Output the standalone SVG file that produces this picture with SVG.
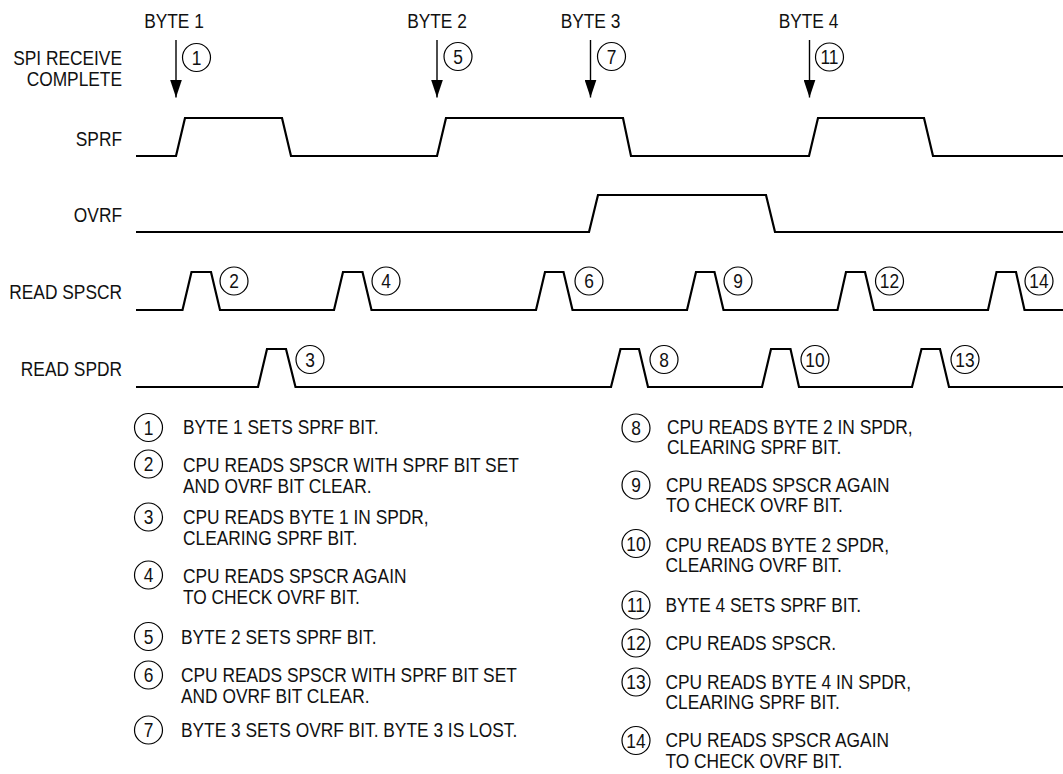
<svg xmlns="http://www.w3.org/2000/svg" width="1063" height="774" viewBox="0 0 1063 774">
<style>
.t{font-family:"Liberation Sans",Arial,sans-serif;font-size:19.5px;fill:#111}
.e{text-anchor:end}
.m{text-anchor:middle}
.sig{fill:none;stroke:#000;stroke-width:2.2;stroke-linejoin:miter}
.cir{fill:none;stroke:#000;stroke-width:1.2}
.arr{stroke:#000;stroke-width:1.4;fill:none}
</style>
<defs>
<marker id="ah" markerUnits="userSpaceOnUse" markerWidth="19" markerHeight="12" refX="18" refY="6" orient="auto"><path d="M0,0 L18,6 L0,12 z" fill="#000"/></marker>
</defs>
<rect width="1063" height="774" fill="#fff"/>
<g id="labels">
<text class="t m" transform="translate(174 28) scale(0.89 1)">BYTE 1</text>
<text class="t m" transform="translate(437 28) scale(0.89 1)">BYTE 2</text>
<text class="t m" transform="translate(590.5 28) scale(0.89 1)">BYTE 3</text>
<text class="t m" transform="translate(808.5 28) scale(0.89 1)">BYTE 4</text>
<text class="t e" transform="translate(122 65) scale(0.89 1)">SPI RECEIVE</text>
<text class="t e" transform="translate(122 86) scale(0.89 1)">COMPLETE</text>
<text class="t e" transform="translate(122 146) scale(0.89 1)">SPRF</text>
<text class="t e" transform="translate(122 222) scale(0.89 1)">OVRF</text>
<text class="t e" transform="translate(122 299) scale(0.89 1)">READ SPSCR</text>
<text class="t e" transform="translate(122 376) scale(0.89 1)">READ SPDR</text>
</g>
<g id="sprf"><path class="sig" d="M136,156 H176 L185,118 H282 L291,156 H437 L446,118 H623 L631,156 H809 L818,118 H924 L933,156 H1063"/></g>
<g id="ovrf"><path class="sig" d="M136,232 H589 L598,195 H766 L775,232 H1063"/></g>
<g id="read-spscr"><path class="sig" d="M136,310 H182.5 L191.5,272 H211 L220,310 H334 L343,272 H362.5 L371.5,310 H536 L545,272 H563.5 L572.5,310 H687 L696,272 H714.5 L723.5,310 H837.5 L846,272 H865 L874,310 H988 L996.5,272 H1016 L1024.5,310 H1063"/></g>
<g id="read-spdr"><path class="sig" d="M136,387 H258 L267,349 H286 L295.5,387 H611 L620.5,349 H639 L648,387 H762 L771,349 H790.5 L799,387 H912 L921.5,349 H940 L949,387 H1063"/></g>
<g id="connectors">
<line class="arr" x1="176" y1="40" x2="176" y2="97.5" marker-end="url(#ah)"/>
<line class="arr" x1="437" y1="40" x2="437" y2="97.5" marker-end="url(#ah)"/>
<line class="arr" x1="590.5" y1="40" x2="590.5" y2="97.5" marker-end="url(#ah)"/>
<line class="arr" x1="809.5" y1="40" x2="809.5" y2="97.5" marker-end="url(#ah)"/>
</g>
<g id="markers">
<g id="m1"><circle class="cir" cx="196.5" cy="57.5" r="14"/><text class="t m" transform="translate(196.5 64.5) scale(0.89 1)">1</text></g>
<g id="m5"><circle class="cir" cx="458" cy="56.5" r="14"/><text class="t m" transform="translate(458 63.5) scale(0.89 1)">5</text></g>
<g id="m7"><circle class="cir" cx="611.5" cy="56.5" r="14"/><text class="t m" transform="translate(611.5 63.5) scale(0.89 1)">7</text></g>
<g id="m11"><circle class="cir" cx="829.5" cy="57" r="14"/><text class="t m" transform="translate(829.5 64) scale(0.89 1)">11</text></g>
<g id="m2"><circle class="cir" cx="234" cy="281" r="14"/><text class="t m" transform="translate(234 288) scale(0.89 1)">2</text></g>
<g id="m4"><circle class="cir" cx="386" cy="281" r="14"/><text class="t m" transform="translate(386 288) scale(0.89 1)">4</text></g>
<g id="m6"><circle class="cir" cx="589" cy="281" r="14"/><text class="t m" transform="translate(589 288) scale(0.89 1)">6</text></g>
<g id="m9"><circle class="cir" cx="738" cy="281" r="14"/><text class="t m" transform="translate(738 288) scale(0.89 1)">9</text></g>
<g id="m12"><circle class="cir" cx="889.5" cy="281" r="14"/><text class="t m" transform="translate(889.5 288) scale(0.89 1)">12</text></g>
<g id="m14"><circle class="cir" cx="1039" cy="281" r="14"/><text class="t m" transform="translate(1039 288) scale(0.89 1)">14</text></g>
<g id="m3"><circle class="cir" cx="310" cy="359.5" r="14"/><text class="t m" transform="translate(310 366.5) scale(0.89 1)">3</text></g>
<g id="m8"><circle class="cir" cx="664" cy="359.5" r="14"/><text class="t m" transform="translate(664 366.5) scale(0.89 1)">8</text></g>
<g id="m10"><circle class="cir" cx="815" cy="359.5" r="14"/><text class="t m" transform="translate(815 366.5) scale(0.89 1)">10</text></g>
<g id="m13"><circle class="cir" cx="965" cy="359.5" r="14"/><text class="t m" transform="translate(965 366.5) scale(0.89 1)">13</text></g>
</g>
<g id="legend">
<g id="l1"><circle class="cir" cx="148.5" cy="427.5" r="14"/><text class="t m" transform="translate(148.5 434.5) scale(0.89 1)">1</text><text class="t" transform="translate(183 434) scale(0.89 1)">BYTE 1 SETS SPRF BIT.</text></g>
<g id="l2"><circle class="cir" cx="148.5" cy="464" r="14"/><text class="t m" transform="translate(148.5 471) scale(0.89 1)">2</text><text class="t" transform="translate(183 472) scale(0.89 1)">CPU READS SPSCR WITH SPRF BIT SET</text><text class="t" transform="translate(183 492.5) scale(0.89 1)">AND OVRF BIT CLEAR.</text></g>
<g id="l3"><circle class="cir" cx="148.5" cy="517" r="14"/><text class="t m" transform="translate(148.5 524) scale(0.89 1)">3</text><text class="t" transform="translate(183 524) scale(0.89 1)">CPU READS BYTE 1 IN SPDR,</text><text class="t" transform="translate(183 545) scale(0.89 1)">CLEARING SPRF BIT.</text></g>
<g id="l4"><circle class="cir" cx="148.5" cy="575" r="14"/><text class="t m" transform="translate(148.5 582) scale(0.89 1)">4</text><text class="t" transform="translate(183 582.5) scale(0.89 1)">CPU READS SPSCR AGAIN</text><text class="t" transform="translate(183 603.5) scale(0.89 1)">TO CHECK OVRF BIT.</text></g>
<g id="l5"><circle class="cir" cx="148.5" cy="636.5" r="14"/><text class="t m" transform="translate(148.5 643.5) scale(0.89 1)">5</text><text class="t" transform="translate(181 643.5) scale(0.89 1)">BYTE 2 SETS SPRF BIT.</text></g>
<g id="l6"><circle class="cir" cx="148.5" cy="675" r="14"/><text class="t m" transform="translate(148.5 682) scale(0.89 1)">6</text><text class="t" transform="translate(181 682) scale(0.89 1)">CPU READS SPSCR WITH SPRF BIT SET</text><text class="t" transform="translate(181 703) scale(0.89 1)">AND OVRF BIT CLEAR.</text></g>
<g id="l7"><circle class="cir" cx="148.5" cy="730" r="14"/><text class="t m" transform="translate(148.5 737) scale(0.89 1)">7</text><text class="t" transform="translate(181 737) scale(0.89 1)">BYTE 3 SETS OVRF BIT. BYTE 3 IS LOST.</text></g>
<g id="l8"><circle class="cir" cx="636" cy="428" r="14"/><text class="t m" transform="translate(636 435) scale(0.89 1)">8</text><text class="t" transform="translate(667 434) scale(0.89 1)">CPU READS BYTE 2 IN SPDR,</text><text class="t" transform="translate(667 454) scale(0.89 1)">CLEARING SPRF BIT.</text></g>
<g id="l9"><circle class="cir" cx="636" cy="485" r="14"/><text class="t m" transform="translate(636 492) scale(0.89 1)">9</text><text class="t" transform="translate(666 492) scale(0.89 1)">CPU READS SPSCR AGAIN</text><text class="t" transform="translate(666 512) scale(0.89 1)">TO CHECK OVRF BIT.</text></g>
<g id="l10"><circle class="cir" cx="636" cy="543.5" r="14"/><text class="t m" transform="translate(636 550.5) scale(0.89 1)">10</text><text class="t" transform="translate(665.5 551.5) scale(0.89 1)">CPU READS BYTE 2 SPDR,</text><text class="t" transform="translate(665.5 572) scale(0.89 1)">CLEARING OVRF BIT.</text></g>
<g id="l11"><circle class="cir" cx="636" cy="605" r="14"/><text class="t m" transform="translate(636 612) scale(0.89 1)">11</text><text class="t" transform="translate(665.5 612) scale(0.89 1)">BYTE 4 SETS SPRF BIT.</text></g>
<g id="l12"><circle class="cir" cx="636" cy="643" r="14"/><text class="t m" transform="translate(636 650) scale(0.89 1)">12</text><text class="t" transform="translate(665.5 650) scale(0.89 1)">CPU READS SPSCR.</text></g>
<g id="l13"><circle class="cir" cx="636" cy="682" r="14"/><text class="t m" transform="translate(636 689) scale(0.89 1)">13</text><text class="t" transform="translate(665.5 688.5) scale(0.89 1)">CPU READS BYTE 4 IN SPDR,</text><text class="t" transform="translate(665.5 708.5) scale(0.89 1)">CLEARING SPRF BIT.</text></g>
<g id="l14"><circle class="cir" cx="636" cy="740.5" r="14"/><text class="t m" transform="translate(636 747.5) scale(0.89 1)">14</text><text class="t" transform="translate(665.5 747) scale(0.89 1)">CPU READS SPSCR AGAIN</text><text class="t" transform="translate(665.5 767.5) scale(0.89 1)">TO CHECK OVRF BIT.</text></g>
</g>
</svg>
